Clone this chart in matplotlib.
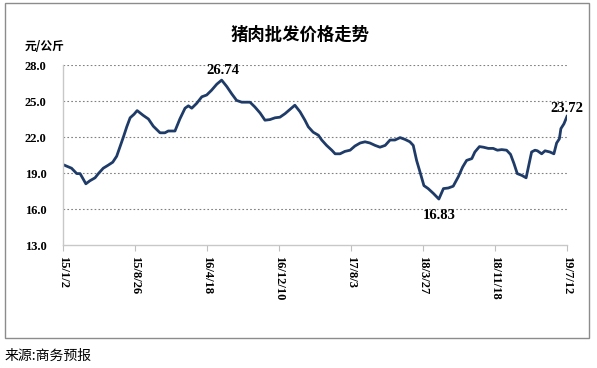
import numpy as np
import matplotlib
matplotlib.use("Agg")
import matplotlib.pyplot as plt
import matplotlib.patches as patches

# weekly-ish wholesale pork price, yuan/kg
dates = [
    "2015-01-02", "2015-01-30", "2015-02-16", "2015-02-27", "2015-03-08", "2015-03-18",
    "2015-03-31", "2015-04-17", "2015-04-28", "2015-05-14", "2015-05-30", "2015-06-14",
    "2015-06-27", "2015-07-08", "2015-07-19", "2015-07-30", "2015-08-10", "2015-08-23",
    "2015-09-02", "2015-09-22", "2015-10-09", "2015-10-25", "2015-11-16", "2015-12-02",
    "2015-12-13", "2016-01-04", "2016-01-20", "2016-02-06", "2016-02-17", "2016-02-28",
    "2016-03-15", "2016-04-01", "2016-04-17", "2016-05-03", "2016-05-20", "2016-06-05",
    "2016-06-22", "2016-07-08", "2016-07-24", "2016-08-10", "2016-08-26", "2016-09-06",
    "2016-09-22", "2016-10-09", "2016-10-25", "2016-11-10", "2016-11-27", "2016-12-13",
    "2016-12-30", "2017-01-15", "2017-01-31", "2017-02-17", "2017-03-05", "2017-03-16",
    "2017-04-01", "2017-04-18", "2017-04-29", "2017-05-15", "2017-06-01", "2017-06-12",
    "2017-06-28", "2017-07-14", "2017-07-31", "2017-08-16", "2017-09-02", "2017-09-18",
    "2017-10-04", "2017-10-21", "2017-11-06", "2017-11-23", "2017-12-09", "2017-12-25",
    "2018-01-11", "2018-01-27", "2018-02-12", "2018-02-23", "2018-03-06", "2018-03-17",
    "2018-03-30", "2018-04-13", "2018-04-30", "2018-05-18", "2018-06-02", "2018-06-18",
    "2018-07-04", "2018-07-21", "2018-08-04", "2018-08-17", "2018-09-03", "2018-09-13",
    "2018-09-28", "2018-10-11", "2018-10-27", "2018-11-12", "2018-11-26", "2018-12-10",
    "2018-12-26", "2019-01-08", "2019-01-19", "2019-01-30", "2019-02-14", "2019-02-28",
    "2019-03-10", "2019-03-18", "2019-03-29", "2019-04-06", "2019-04-20", "2019-05-01",
    "2019-05-17", "2019-05-30", "2019-06-08", "2019-06-17", "2019-06-22", "2019-07-02",
    "2019-07-12",
]
prices = [
    19.70, 19.40, 18.95, 18.95, 18.55, 18.10,
    18.35, 18.60, 18.95, 19.40, 19.65, 19.90,
    20.40, 21.20, 22.00, 22.85, 23.60, 23.90,
    24.20, 23.80, 23.50, 22.90, 22.35, 22.35,
    22.50, 22.50, 23.50, 24.40, 24.60, 24.40,
    24.80, 25.35, 25.50, 25.90, 26.40, 26.74,
    26.20, 25.60, 25.05, 24.90, 24.90, 24.90,
    24.50, 24.00, 23.40, 23.45, 23.60, 23.65,
    23.95, 24.30, 24.65, 24.10, 23.40, 22.85,
    22.40, 22.15, 21.75, 21.30, 20.90, 20.60,
    20.60, 20.80, 20.90, 21.25, 21.50, 21.60,
    21.50, 21.30, 21.15, 21.30, 21.75, 21.75,
    21.95, 21.80, 21.60, 21.30, 20.05, 19.10,
    17.95, 17.70, 17.30, 16.83, 17.70, 17.75,
    17.90, 18.70, 19.50, 20.05, 20.20, 20.75,
    21.20, 21.15, 21.05, 21.05, 20.90, 20.95,
    20.90, 20.55, 19.80, 18.95, 18.80, 18.60,
    19.80, 20.75, 20.90, 20.85, 20.60, 20.85,
    20.75, 20.60, 21.50, 21.85, 22.70, 23.10,
    23.72,
]
tick_dates = ["2015-01-02", "2015-08-26", "2016-04-18", "2016-12-10",
              "2017-08-03", "2018-03-27", "2018-11-18", "2019-07-12"]
tick_labels = ["15/1/2", "15/8/26", "16/4/18", "16/12/10",
               "17/8/3", "18/3/27", "18/11/18", "19/7/12"]
y_ticks = [13.0, 16.0, 19.0, 22.0, 25.0, 28.0]

x = np.array(dates, dtype="datetime64[D]")
y = np.array(prices)
xt = np.array(tick_dates, dtype="datetime64[D]")

cjk = ["Noto Sans CJK SC", "DejaVu Sans"]
serif = "Liberation Serif"

fig = plt.figure(figsize=(5.97, 3.68), dpi=100)
fig.patches.append(patches.Rectangle((5 / 597, 1 - 338 / 368), 584 / 597, 335 / 368,
                                     transform=fig.transFigure, fill=False,
                                     edgecolor="#8c8c8c", linewidth=1.0))

ax = fig.add_axes([63 / 597, 1 - 245 / 368, 504 / 597, 180 / 368])
ax.plot(x, y, color="#1f3b68", linewidth=2.0, solid_joinstyle="round")

ax.set_xlim(xt[0], xt[-1])
ax.set_ylim(13, 28)
ax.set_yticks(y_ticks)
ax.set_yticklabels([f"{v:.1f}" for v in y_ticks], fontfamily=serif,
                   fontweight="bold", fontsize=9)
ax.set_xticks(xt)
ax.set_xticklabels(tick_labels, rotation=-90, fontfamily=serif,
                   fontweight="bold", fontsize=9, va="top")
ax.tick_params(axis="y", length=0, pad=12)
ax.tick_params(axis="x", length=4, color="#bfbfbf", pad=4)

for v in y_ticks[1:]:
    ax.axhline(v, color="#808080", linewidth=0.8, linestyle=(0, (1.5, 2)), zorder=0)

for s in ["top", "right"]:
    ax.spines[s].set_visible(False)
for s in ["left", "bottom"]:
    ax.spines[s].set_color("#c8c8c8")
    ax.spines[s].set_linewidth(1.0)

# annotations for peak, trough, last value
i_max = int(np.argmax(y))
i_min = int(np.argmin(y))
ax.annotate(f"{y[i_max]:.2f}", (x[i_max], y[i_max]), xytext=(1, 2),
            textcoords="offset points", ha="center", va="bottom",
            fontfamily=serif, fontweight="bold", fontsize=10.5)
ax.annotate(f"{y[i_min]:.2f}", (x[i_min], y[i_min]), xytext=(0, -7),
            textcoords="offset points", ha="center", va="top",
            fontfamily=serif, fontweight="bold", fontsize=10.5)
ax.annotate(f"{y[-1]:.2f}", (x[-1], y[-1]), xytext=(0, 1),
            textcoords="offset points", ha="center", va="bottom",
            fontfamily=serif, fontweight="bold", fontsize=10.5)

fig.text(300 / 597, 1 - 35 / 368, "猪肉批发价格走势", family=cjk, fontweight="bold",
         fontsize=12.5, ha="center", va="center")
fig.text(25 / 597, 1 - 47 / 368, "元/公斤", family=cjk, fontweight="bold",
         fontsize=8.5, ha="left", va="center")
fig.text(5 / 597, 1 - 356 / 368, "来源:商务预报", family=cjk,
         fontsize=10, ha="left", va="center")

plt.savefig("out.png", dpi=100)
